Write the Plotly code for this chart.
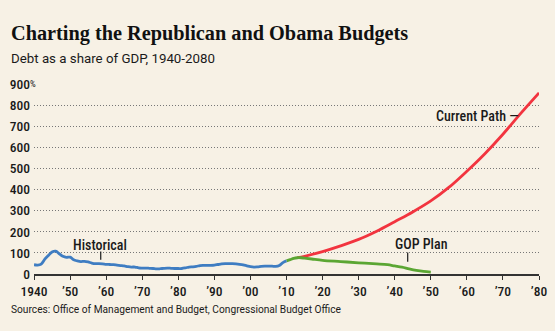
import plotly.graph_objects as go

# ---- data ----
hist_years = list(range(1940, 2011))
hist_vals = [44, 42, 47, 70, 88, 104, 108, 96, 84, 79,
             80, 67, 62, 59, 60, 57, 52, 49, 49, 48,
             46, 45, 44, 42, 40, 38, 35, 33, 33, 29,
             28, 28, 27, 26, 24, 25, 27, 28, 27, 26,
             26, 26, 29, 33, 34, 36, 40, 41, 41, 41,
             42, 45, 48, 49, 49, 49, 48, 46, 43, 39,
             35, 33, 34, 36, 37, 37, 37, 36, 40, 54, 62]

gop_years = [2010, 2011, 2012, 2013, 2014, 2015, 2017, 2020, 2025, 2030,
             2035, 2038, 2040, 2042, 2044, 2046, 2048, 2050]
gop_vals = [62, 68, 74, 77, 77, 75, 71, 65, 59, 53,
            48, 44, 38, 32, 24, 17, 12, 9]

cur_years = [2013, 2015, 2020, 2025, 2030, 2035, 2040, 2045, 2050,
             2055, 2060, 2065, 2070, 2075, 2080]
cur_vals = [77, 84, 106, 133, 164, 203, 248, 294, 346,
            410, 487, 570, 662, 762, 858]

x_tickvals = [1940, 1950, 1960, 1970, 1980, 1990, 2000, 2010, 2020,
              2030, 2040, 2050, 2060, 2070, 2080]
x_ticktext = ["1940", "’50", "’60", "’70", "’80", "’90", "’00", "’10", "’20",
              "’30", "’40", "’50", "’60", "’70", "’80"]
y_tickvals = [0, 100, 200, 300, 400, 500, 600, 700, 800, 900]
y_ticktext = ["0", "100", "200", "300", "400", "500", "600", "700", "800", "900"]

BG = "#f7f1e5"
INK = "#1a1a1a"
SANS = "Roboto, Liberation Sans, sans-serif"
COND = "Roboto Condensed, Roboto, sans-serif"

fig = go.Figure()
fig.add_trace(go.Scatter(x=cur_years, y=cur_vals, mode="lines",
                         line=dict(color="#f2343f", width=2.8, shape="spline"),
                         hoverinfo="skip", showlegend=False))
fig.add_trace(go.Scatter(x=gop_years, y=gop_vals, mode="lines",
                         line=dict(color="#5ba633", width=2.8, shape="spline"),
                         hoverinfo="skip", showlegend=False))
fig.add_trace(go.Scatter(x=hist_years, y=hist_vals, mode="lines",
                         line=dict(color="#3f7dc2", width=2.8, shape="spline"),
                         hoverinfo="skip", showlegend=False))

fig.update_layout(
    width=555, height=331,
    margin=dict(l=34, r=8, t=84, b=57),
    paper_bgcolor=BG, plot_bgcolor=BG,
    xaxis=dict(range=[1940, 2080], tickvals=x_tickvals, ticktext=x_ticktext,
               showgrid=False, zeroline=False, showline=True,
               linecolor="#333", linewidth=1.5, ticklabeloverflow="allow",
               ticks="outside", ticklen=4, tickwidth=1.2, tickcolor="#333",
               tickfont=dict(family=COND, size=13.5, color=INK, weight=500)),
    yaxis=dict(range=[0, 900], tickvals=y_tickvals, ticktext=y_ticktext,
               showgrid=True, gridcolor="#777", griddash="1px,2px", gridwidth=1,
               zeroline=False, showline=False, ticks="",
               ticklabelstandoff=3,
               tickfont=dict(family=COND, size=13.5, color=INK, weight=500)),
    font=dict(family=SANS, color=INK),
)

ann = []
ann.append(dict(xref="paper", yref="paper", x=-25/513, y=1 + 51/190,
                xanchor="left", yanchor="middle", showarrow=False,
                text="<b>Charting the Republican and Obama Budgets</b>",
                font=dict(family="Liberation Serif, serif", size=20.3, color="#111")))
ann.append(dict(xref="paper", yref="paper", x=-25/513, y=1 + 26/190,
                xanchor="left", yanchor="middle", showarrow=False,
                text="Debt as a share of GDP, 1940-2080",
                font=dict(family=SANS, size=13.3, color=INK)))
ann.append(dict(xref="paper", yref="paper", x=-25/513, y=-35/190,
                xanchor="left", yanchor="middle", showarrow=False,
                text="Sources: Office of Management and Budget, Congressional Budget Office",
                font=dict(family=SANS, size=10.2, color=INK)))
ann.append(dict(xref="paper", yref="y", x=-6/513, y=900,
                xanchor="left", yanchor="middle", showarrow=False,
                text="%", font=dict(family=COND, size=9, color=INK)))
ann.append(dict(x=1958.4, y=139, xanchor="center", yanchor="middle", showarrow=False,
                text="Historical", font=dict(family=COND, size=14, color=INK, weight=500)))
ann.append(dict(x=2047.4, y=142, xanchor="center", yanchor="middle", showarrow=False,
                text="GOP Plan", font=dict(family=COND, size=14, color=INK, weight=500)))
ann.append(dict(x=2075.0, y=750, xanchor="right", yanchor="middle", showarrow=False,
                text="Current Path —", font=dict(family=COND, size=14, color=INK, weight=500)))
fig.update_layout(annotations=ann)

fig.add_shape(type="line", x0=1958.5, x1=1958.5, y0=68, y1=107,
              line=dict(color=INK, width=1.2))
fig.add_shape(type="line", x0=2043.6, x1=2043.6, y0=58, y1=102,
              line=dict(color=INK, width=1.2))

fig.write_html("out.html")
